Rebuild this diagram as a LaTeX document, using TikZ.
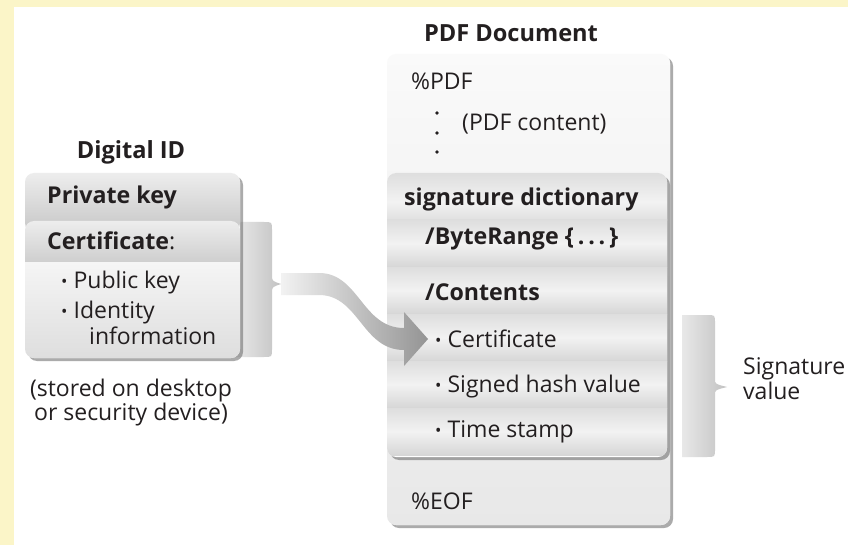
\documentclass[tikz,border=0pt]{standalone}
\usepackage{fontspec}
\setmainfont{Open Sans}
\usetikzlibrary{calc,shadows}

\definecolor{pagebg}{HTML}{FBF5C8}
\definecolor{inktext}{HTML}{231F20}
\newcommand{\itemdot}{\raisebox{0.04em}{\fontsize{17}{17}\selectfont\textbullet}\hspace{6pt}}

\begin{document}
\begin{tikzpicture}[x=1pt, y=-1pt,
  txt/.style={anchor=base west, inner sep=0pt, text=inktext, font=\fontsize{23}{26}\selectfont},
  txtc/.style={txt, anchor=base},
  boldtxt/.style={txt, font=\fontsize{23.2}{26}\selectfont\bfseries},
  heading/.style={txt, anchor=base, font=\fontsize{23.6}{26}\selectfont\bfseries},
  contdot/.style={circle, fill=inktext, inner sep=0pt, minimum size=3.8pt},
  panelshadow/.style={rounded corners=9pt, fill=white, drop shadow={shadow xshift=3pt, shadow yshift=-3pt, opacity=0.55, fill=black!60}},
  idrow/.style={rounded corners=9pt, top color=black!7, bottom color=black!22},
  idbody/.style={top color=black!4, bottom color=black!13},
  sigrow/.style={top color=black!13, bottom color=black!16, middle color=black!5},
  bracketfill/.style={left color=black!9, right color=black!24},
]

  \useasboundingbox (0,0) rectangle (848,545);
  \fill[pagebg] (0,0) rectangle (848,545);
  \fill[white] (14,7) rectangle (848,545);

  % Digital ID
  \coordinate (idtip) at (281,284);
  \shade[bracketfill] (236,222) -- (264,222) .. controls (272,222) .. (272,230) -- (272,275)
    .. controls (272,281) .. (idtip) .. controls (272,287) .. (272,293) -- (272,349)
    .. controls (272,357) .. (264,357) -- (236,357) -- cycle;

  \path[panelshadow] (25,173) rectangle (240,358);
  \begin{scope}
    \clip[rounded corners=9pt] (25,173) rectangle (240,358);
    \shade[idrow] (25,173) rectangle (240,232);
    \shade[idrow] (25,221) rectangle (240,272);
    \shade[idbody] (25,263) rectangle (240,358);
  \end{scope}

  \node[heading] (idtitle) at (131,159) {Digital ID};
  \node[boldtxt] (privkey) at (47,204) {Private key};
  \node[boldtxt] (certhead) at (47,250) {Certificate{\mdseries:}};
  \node[txt] (pubkey) at (61,288) {\itemdot Public key};
  \node[txt] (identity) at (61,318) {\itemdot Identity};
  \node[txt] (idinfo) at (89,344) {information};
  \node[txtc] (stored) at (131,396) {(stored on desktop};
  \node[txtc] (device) at (131,420) {or security device)};

  % PDF document
  \path[panelshadow] (387,54) rectangle (670,525);
  \shade[rounded corners=9pt, top color=black!2, bottom color=black!9] (387,54) rectangle (670,525);

  \path[panelshadow] (387,173) rectangle (667,457);
  \begin{scope}
    \clip[rounded corners=9pt] (387,173) rectangle (667,457);
    \shade[sigrow, rounded corners=9pt] (387,173) rectangle (667,230);
    \foreach \rowtop in {220,267,314,361,408} {
      \shade[sigrow] (387,\rowtop) rectangle (667,\rowtop+47);
    }
  \end{scope}

  \coordinate (sigtip) at (727,387);
  \shade[bracketfill] (682,315) -- (707,315) .. controls (715,315) .. (715,323) -- (715,379)
    .. controls (715,384) .. (sigtip) .. controls (715,390) .. (715,395) -- (715,449)
    .. controls (715,457) .. (707,457) -- (682,457) -- cycle;

  % arrow from the certificate into the signature
  \coordinate (arrowtip) at (428,339);
  \shade[left color=black!5, right color=black!42]
    ($(idtip)+(0,-11)$) -- ++(38,0)
    .. controls +(40,0) and +(-42,0) .. ($(arrowtip)+(-24,-11)$)
    -- ($(arrowtip)+(-24,-27)$) -- (arrowtip) -- ($(arrowtip)+(-24,27)$)
    -- ($(arrowtip)+(-24,11)$)
    .. controls +(-42,0) and +(40,0) .. ($(idtip)+(38,11)$)
    -- ($(idtip)+(0,11)$) -- cycle;

  \node[heading] (pdftitle) at (511,42) {PDF Document};
  \node[txt] (pdfhead) at (411,90) {\%PDF};
  \node[contdot] (dotone) at (437,113) {};
  \node[contdot] (dottwo) at (437,133) {};
  \node[contdot] (dotthree) at (437,152) {};
  \node[txt] (pdfbody) at (462,131) {(PDF content)};
  \node[boldtxt] (sigdict) at (404,206) {signature dictionary};
  \node[boldtxt] (byterange) at (425,245) {/ByteRange \{\,.\,.\,.\,\}};
  \node[boldtxt] (contents) at (425,300) {/Contents};
  \node[txt] (sigcert) at (435,347) {\itemdot Certificate};
  \node[txt] (sighash) at (435,392) {\itemdot Signed hash value};
  \node[txt] (sigtime) at (435,437) {\itemdot Time stamp};
  \node[txt] (pdfend) at (411,509) {\%EOF};
  \node[txt] (sigvalue) at (743,374) {Signature};
  \node[txt] (sigvaluetwo) at (743,399) {value};

\end{tikzpicture}
\end{document}
